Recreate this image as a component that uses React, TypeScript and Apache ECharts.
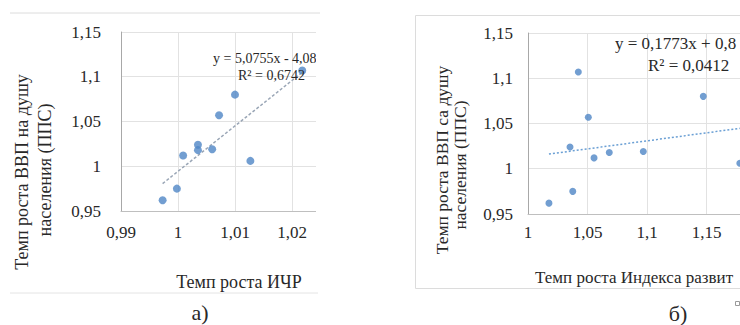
import React, { useEffect, useRef } from "react";
import * as echarts from "echarts";

// Shared dependent variable: growth rate of GDP per capita (PPP)
const gdpGrowth = [0.962, 0.975, 1.012, 1.024, 1.018, 1.019, 1.057, 1.08, 1.006, 1.107];
// Chart а): growth rate of HDI
const hdiGrowth = [0.9973, 0.9998, 1.0009, 1.0035, 1.0035, 1.006, 1.0072, 1.01, 1.0127, 1.0218];
// Chart б): growth rate of the development index
const devIndexGrowth = [1.0176, 1.0376, 1.0555, 1.0353, 1.0683, 1.0969, 1.0507, 1.1473, 1.178, 1.0423];

const trendA = { slope: 5.0755, intercept: -4.0812 };
const trendB = { slope: 0.1773, intercept: 0.8358 };

const eqA = ["y = 5,0755x - 4,0812", "R² = 0,6742"];
const eqB = ["y = 0,1773x + 0,8", "R² = 0,0412"];

const yTitle1A = "Темп роста ВВП на душу";
const yTitle1B = "Темп роста ВВП са душу";
const yTitle2 = "населения (ППС)";
const xTitleA = "Темп роста ИЧР";
const xTitleB = "Темп роста Индекса развит";
const captionA = "а)";
const captionB = "б)";

const FONT = "Liberation Serif";
const TXT = "#282828";
const DOT = "#4f86c6";

const fmt = (v: number) => String(Math.round(v * 100) / 100).replace(".", ",");

function trendData(xs: number[], t: { slope: number; intercept: number }) {
  const lo = Math.min(...xs);
  const hi = Math.max(...xs);
  return [
    [lo, t.slope * lo + t.intercept],
    [hi, t.slope * hi + t.intercept],
  ];
}

export default function App() {
  const ref = useRef<HTMLDivElement>(null);
  useEffect(() => {
    if (!ref.current) return;
    const chart = echarts.init(ref.current, null, { renderer: "svg" });
    const axisLabelBase = { color: TXT, fontFamily: FONT, fontSize: 17, formatter: fmt };
    const split = { show: true, lineStyle: { color: "#e2e2e2", width: 1 } };
    const txt = (text: string, x: number, y: number, extra: any = {}) => ({
      type: "text",
      x,
      y,
      z: 10,
      rotation: extra.rot || 0,
      style: {
        text,
        fill: TXT,
        fontFamily: FONT,
        fontSize: extra.size || 17,
        textAlign: extra.align || "center",
        textVerticalAlign: "middle",
        verticalAlign: "middle",
      },
    });
    chart.setOption({
      animation: false,
      backgroundColor: "#ffffff",
      grid: [
        { left: 121, top: 32, width: 228, height: 179, outerBoundsMode: "none", containLabel: false },
        { left: 528, top: 33, width: 238, height: 181, outerBoundsMode: "none", containLabel: false },
      ],
      xAxis: [
        {
          gridIndex: 0,
          type: "value",
          min: 0.99,
          max: 1.03,
          interval: 0.01,
          axisLine: { show: true, lineStyle: { color: "#bfbfbf" } },
          axisTick: { show: false },
          axisLabel: { ...axisLabelBase, margin: 13 },
          splitLine: split,
        },
        {
          gridIndex: 1,
          type: "value",
          min: 1,
          max: 1.2,
          interval: 0.05,
          axisLine: { show: true, lineStyle: { color: "#bfbfbf" } },
          axisTick: { show: false },
          axisLabel: { ...axisLabelBase, margin: 10, showMaxLabel: false },
          splitLine: split,
        },
      ],
      yAxis: [
        {
          gridIndex: 0,
          type: "value",
          min: 0.95,
          max: 1.15,
          interval: 0.05,
          axisLine: { show: true, lineStyle: { color: "#a8a8a8" } },
          axisTick: { show: false },
          axisLabel: { ...axisLabelBase, margin: 20 },
          splitLine: split,
        },
        {
          gridIndex: 1,
          type: "value",
          min: 0.95,
          max: 1.15,
          interval: 0.05,
          axisLine: { show: true, lineStyle: { color: "#a8a8a8" } },
          axisTick: { show: false },
          axisLabel: { ...axisLabelBase, margin: 15 },
          splitLine: split,
        },
      ],
      series: [
        {
          type: "line",
          xAxisIndex: 0,
          yAxisIndex: 0,
          data: trendData(hdiGrowth, trendA),
          symbol: "none",
          lineStyle: { color: "#9aa6b6", width: 1.5, type: [3, 2] },
          z: 1,
        },
        {
          type: "scatter",
          xAxisIndex: 0,
          yAxisIndex: 0,
          data: hdiGrowth.map((x, i) => [x, gdpGrowth[i]]),
          symbolSize: 8,
          itemStyle: { color: DOT },
        },
        {
          type: "line",
          xAxisIndex: 1,
          yAxisIndex: 1,
          data: trendData(devIndexGrowth, trendB),
          symbol: "none",
          lineStyle: { color: "#6a9fd4", width: 1.5, type: [2, 2] },
          z: 1,
        },
        {
          type: "scatter",
          xAxisIndex: 1,
          yAxisIndex: 1,
          data: devIndexGrowth.map((x, i) => [x, gdpGrowth[i]]),
          symbolSize: 7,
          itemStyle: { color: DOT },
        },
      ],
      graphic: [
        // equations
        txt(eqA[0], 213, 58, { size: 14, align: "left" }),
        txt(eqA[1], 238, 75, { size: 14, align: "left" }),
        txt(eqB[0], 615, 43, { size: 17, align: "left" }),
        txt(eqB[1], 648, 65, { size: 17, align: "left" }),
        // crop of chart а)
        {
          type: "rect",
          z: 50,
          shape: { x: 316, y: 16, width: 96, height: 274 },
          style: { fill: "#ffffff" },
        },
        // frames
        {
          type: "line",
          z: 60,
          shape: { x1: 10, y1: 13, x2: 320, y2: 13 },
          style: { stroke: "#dcdcdc", lineWidth: 1 },
        },
        {
          type: "line",
          z: 60,
          shape: { x1: 10, y1: 293, x2: 318, y2: 293 },
          style: { stroke: "#e4e4e4", lineWidth: 1 },
        },
        {
          type: "rect",
          z: 60,
          shape: { x: 415.5, y: 15.5, width: 340, height: 273 },
          style: { fill: "none", stroke: "#dcdcdc", lineWidth: 1 },
        },
        {
          type: "rect",
          z: 60,
          shape: { x: 735.5, y: 301.5, width: 4, height: 4 },
          style: { fill: "none", stroke: "#9a9a9a", lineWidth: 1 },
        },
        // axis titles
        txt(yTitle1A, 22, 172, { rot: Math.PI / 2, size: 18 }),
        txt(yTitle2, 45, 170, { rot: Math.PI / 2, size: 18 }),
        txt(yTitle1B, 442, 160, { rot: Math.PI / 2, size: 17.5 }),
        txt(yTitle2, 460, 165, { rot: Math.PI / 2, size: 17.5 }),
        txt(xTitleA, 239, 282, { size: 18 }),
        txt(xTitleB, 535, 277, { align: "left", size: 17 }),
        // captions
        txt(captionA, 200, 312, { size: 22 }),
        txt(captionB, 678, 313, { size: 22 }),
      ],
    });
    return () => chart.dispose();
  }, []);
  return (
    <div
      ref={ref}
      style={{ position: "absolute", left: 0, top: 0, width: 740, height: 325, overflow: "hidden" }}
    />
  );
}
